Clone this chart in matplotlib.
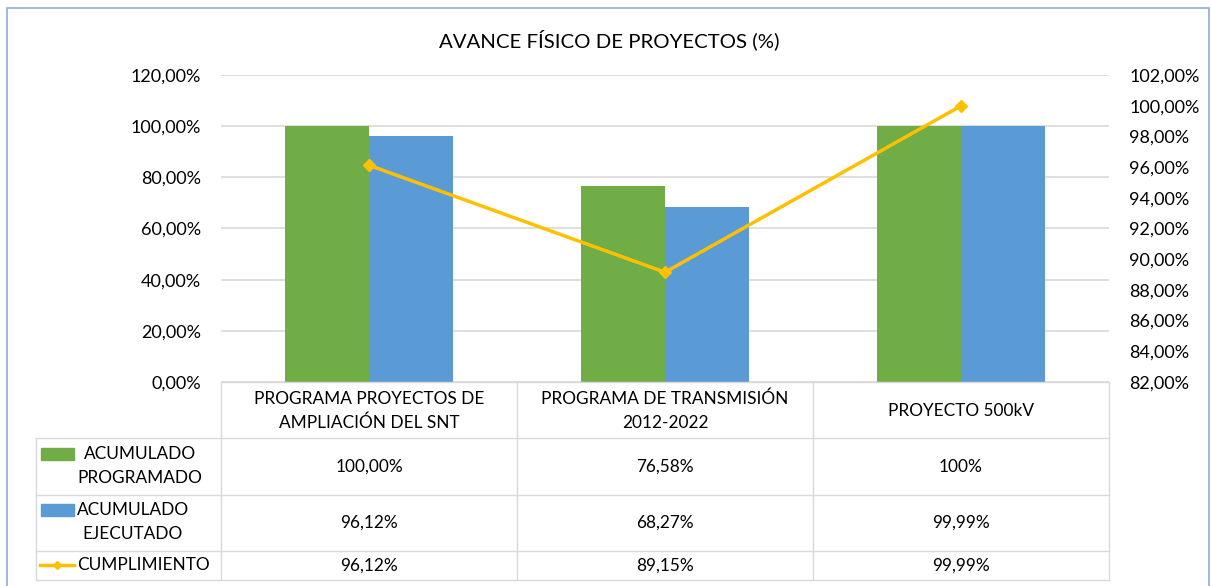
import matplotlib
matplotlib.use("Agg")
import matplotlib.pyplot as plt
from matplotlib.ticker import FuncFormatter, MultipleLocator
from matplotlib.lines import Line2D
from matplotlib.patches import Rectangle

plt.rcParams['font.family'] = ['Lato', 'DejaVu Sans']

# ---- data ----
categories = ["PROGRAMA PROYECTOS DE\nAMPLIACIÓN DEL SNT",
              "PROGRAMA DE TRANSMISIÓN\n2012-2022",
              "PROYECTO 500kV"]
programado = [1.0000, 0.7658, 1.0000]
ejecutado = [0.9612, 0.6827, 0.9999]
cumplimiento = [0.9612, 0.8915, 0.9999]
series_names = ["ACUMULADO\nPROGRAMADO", "ACUMULADO\nEJECUTADO", "CUMPLIMIENTO"]
programado_text = ["100,00%", "76,58%", "100%"]
ejecutado_text = ["96,12%", "68,27%", "99,99%"]
cumplimiento_text = ["96,12%", "89,15%", "99,99%"]
title = "AVANCE FÍSICO DE PROYECTOS (%)"

GREEN = "#70AD47"
BLUE = "#5B9BD5"
GOLD = "#FFC000"
GRID = "#D9D9D9"
TXT = "#000000"

W, H = 1211, 586
fig = plt.figure(figsize=(W / 100, H / 100), dpi=100)

def fx(px):
    return px / W

def fy(py):
    return 1 - py / H

# chart border
fig.patches.append(Rectangle((fx(7), fy(600)), fx(1209) - fx(7), fy(8) - fy(600),
                             transform=fig.transFigure, fill=False,
                             edgecolor="#8FAADC", linewidth=1.2))

ax_l, ax_r, ax_t, ax_b = 221, 1109, 75, 382
ax = fig.add_axes([fx(ax_l), fy(ax_b), fx(ax_r) - fx(ax_l), fy(ax_t) - fy(ax_b)])
x = list(range(len(categories)))
bw = 0.284
ax.bar([i - bw / 2 for i in x], programado, width=bw, color=GREEN, zorder=2)
ax.bar([i + bw / 2 for i in x], ejecutado, width=bw, color=BLUE, zorder=2)
ax.set_xlim(-0.5, 2.5)
ax.set_ylim(0, 1.2)
ax.yaxis.set_major_locator(MultipleLocator(0.2))
ax.yaxis.set_major_formatter(FuncFormatter(lambda v, p: f"{v*100:.2f}%".replace(".", ",")))
ax.grid(axis="y", color=GRID, linewidth=1.2, zorder=0)
ax.set_axisbelow(True)
for s in ax.spines.values():
    s.set_visible(False)
ax.tick_params(axis="y", length=0, pad=14.5, labelsize=13, labelcolor=TXT)
ax.set_xticks([])

ax2 = ax.twinx()
ax2.plot(x, cumplimiento, color=GOLD, linewidth=2.5, marker="D", markersize=6, zorder=3)
ax2.set_ylim(0.82, 1.02)
ax2.yaxis.set_major_locator(MultipleLocator(0.02))
ax2.yaxis.set_major_formatter(FuncFormatter(lambda v, p: f"{v*100:.2f}%".replace(".", ",")))
for s in ax2.spines.values():
    s.set_visible(False)
ax2.tick_params(axis="y", length=0, pad=14.5, labelsize=13, labelcolor=TXT)

fig.text(fx(609), fy(40), title, ha="center", va="center", fontsize=14.7, color=TXT)

# ---- data table ----
col_edges = [36, 221, 517, 813, 1109]
row_edges = [382, 438, 495, 551, 580]
lw = 1.0

def hline(y, x0, x1):
    fig.add_artist(Line2D([fx(x0), fx(x1)], [fy(y), fy(y)], color=GRID, linewidth=lw))

def vline(xp, y0, y1):
    fig.add_artist(Line2D([fx(xp), fx(xp)], [fy(y0), fy(y1)], color=GRID, linewidth=lw))

hline(row_edges[0], col_edges[1], col_edges[-1])
for y in row_edges[1:]:
    hline(y, col_edges[0], col_edges[-1])
vline(col_edges[0], row_edges[1], row_edges[-1])
for xp in col_edges[1:]:
    vline(xp, row_edges[0], row_edges[-1])

fs = 12.4
ls = 1.58
for i, cat in enumerate(categories):
    cx = (col_edges[i + 1] + col_edges[i + 2]) / 2
    fig.text(fx(cx), fy((row_edges[0] + row_edges[1]) / 2 + 1), cat, ha="center", va="center",
             fontsize=fs, color=TXT, linespacing=ls)
    for r, vals in enumerate([programado_text, ejecutado_text, cumplimiento_text]):
        cy = (row_edges[r + 1] + row_edges[r + 2]) / 2
        fig.text(fx(cx), fy(cy), vals[i], ha="center", va="center", fontsize=fs, color=TXT)

# legend keys in row headers
fig.patches.append(Rectangle((fx(41), fy(460)), fx(74) - fx(41), fy(448) - fy(460),
                             transform=fig.transFigure, color=GREEN))
fig.patches.append(Rectangle((fx(41), fy(516)), fx(74) - fx(41), fy(504) - fy(516),
                             transform=fig.transFigure, color=BLUE))
fig.add_artist(Line2D([fx(40), fx(74)], [fy(565), fy(565)], color=GOLD, linewidth=2.5))
fig.add_artist(Line2D([fx(57)], [fy(565)], color=GOLD, marker="D", markersize=4.5))
fig.text(fx(140), fy(466), series_names[0], ha="center", va="center", fontsize=fs,
         color=TXT, linespacing=ls)
fig.text(fx(133), fy(522), series_names[1], ha="center", va="center", fontsize=fs,
         color=TXT, linespacing=ls)
fig.text(fx(77), fy(565), series_names[2], ha="left", va="center", fontsize=fs, color=TXT)

fig.savefig("out.png", dpi=100)
